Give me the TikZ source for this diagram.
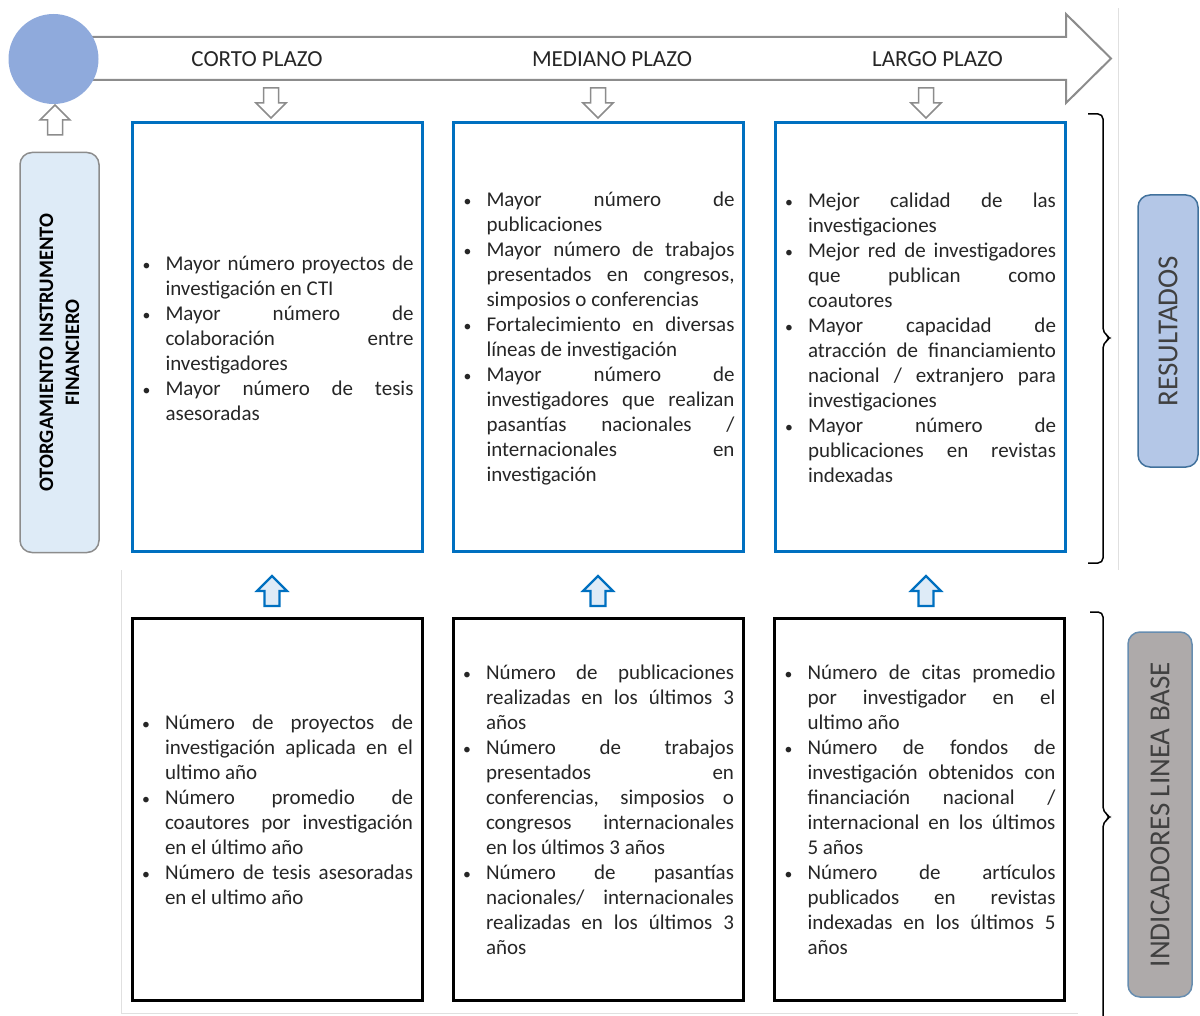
\documentclass[tikz,border=0pt]{standalone}
\usepackage{fontspec}
\setmainfont{Carlito}
\usepackage{enumitem}
\usetikzlibrary{shadows}
\definecolor{resblue}{HTML}{0070C0}
\definecolor{circblue}{HTML}{8FAADC}
\definecolor{paleblue}{HTML}{DEEBF7}
\definecolor{lightblue}{HTML}{B4C7E7}
\definecolor{edgeblue}{HTML}{41719C}
\definecolor{basegray}{HTML}{AEAAAA}
\definecolor{linegray}{HTML}{8C8C8C}
\setlist[itemize]{nosep,leftmargin=12pt,labelsep=7.5pt,label=\scalebox{0.75}{\textbullet}}
\hyphenpenalty=10000 \tolerance=10000 \hbadness=10000
\newcommand{\boxfont}{\fontsize{10.5}{12.5}\selectfont}
\tikzset{
	blockarr/.pic={\draw[pic actions] (-7.5,15) -- (-7.5,0) -- (-15,0) -- (0,-15) -- (15,0) -- (7.5,0) -- (7.5,15) -- cycle;},
	hollow/.style={draw=linegray, fill=white, line width=0.75pt},
	bluearr/.style={draw=resblue, fill=paleblue, line width=1.1pt},
	resbox/.style={draw=resblue, line width=1.5pt, minimum width=145pt, minimum height=214pt, text width=136pt, inner sep=0pt, align=justify, font=\boxfont, text=black!85, execute at end node={\par\vspace*{4pt}}},
	basebox/.style={resbox, draw=black, fill=white, minimum height=191pt, drop shadow={shadow xshift=0.8pt, shadow yshift=-0.8pt, opacity=0.45}},
	sidelabel/.style={rounded corners=6pt, rotate=90, align=center, inner sep=0pt},
	bracket/.style={rounded corners=2.5pt, line width=0.75pt}
}
\begin{document}
\begin{tikzpicture}[x=0.5pt,y=-0.5pt]
		\useasboundingbox (0,0) rectangle (1200,1016);
		\clip (0,0) rectangle (1200,1016);
		%Frame lines
		\draw[black!12] (1118,8) -- (1118,570);
		\draw[black!12] (121,570) -- (121,1013) -- (1078,1013);
		%Time arrow
		\draw[linegray, line width=1pt, fill=white] (60,37) -- (1066,37) -- (1066,14) -- (1111,58.5) -- (1066,103) -- (1066,80) -- (60,80) -- cycle;
		\node[circle, fill=circblue, minimum size=45pt, inner sep=0pt] (start) at (53.5,59) {};
		\node[font=\fontsize{11.5}{14}\selectfont, text=black!85] (corto) at (257,59) {CORTO PLAZO};
		\node[font=\fontsize{11.5}{14}\selectfont, text=black!85] (mediano) at (612,59) {MEDIANO PLAZO};
		\node[font=\fontsize{11.5}{14}\selectfont, text=black!85] (largo) at (937.5,59) {LARGO PLAZO};
		%Block arrows
		\pic[hollow] at (55,120) {blockarr};
		\pic[hollow, rotate=180] at (271,103) {blockarr};
		\pic[hollow, rotate=180] at (598,103) {blockarr};
		\pic[hollow, rotate=180] at (926,103) {blockarr};
		\pic[bluearr] at (272,591) {blockarr};
		\pic[bluearr] at (598,591) {blockarr};
		\pic[bluearr] at (926,591) {blockarr};
		%Side label
		\node[sidelabel, draw=black!45, fill=paleblue, line width=0.75pt, minimum width=200pt, minimum height=39.5pt, font=\bfseries\fontsize{10.3}{13}\selectfont] (otorga) at (59.5,352.5) {OTORGAMIENTO INSTRUMENTO\\FINANCIERO};
		%Results
		\node[resbox] (r1) at (277.5,337) {\begin{itemize}
			\item Mayor número proyectos de\linebreak investigación en CTI
			\item Mayor número de\linebreak colaboración entre\linebreak investigadores
			\item Mayor número de tesis\linebreak asesoradas
		\end{itemize}};
		\node[resbox] (r2) at (598.5,337) {\begin{itemize}
			\item Mayor número de\linebreak publicaciones
			\item Mayor número de trabajos\linebreak presentados en congresos,\linebreak simposios o conferencias
			\item Fortalecimiento en diversas\linebreak líneas de investigación
			\item Mayor número de\linebreak investigadores que realizan\linebreak pasantías nacionales /\linebreak internacionales en\linebreak investigación
		\end{itemize}};
		\node[resbox] (r3) at (920,337) {\begin{itemize}
			\item Mejor calidad de las\linebreak investigaciones
			\item Mejor red de investigadores\linebreak que publican como\linebreak coautores
			\item Mayor capacidad de\linebreak atracción de financiamiento\linebreak nacional / extranjero para\linebreak investigaciones
			\item Mayor número de\linebreak publicaciones en revistas\linebreak indexadas
		\end{itemize}};
		%Baseline indicators
		\node[basebox] (b1) at (277,809) {\begin{itemize}
			\item Número de proyectos de\linebreak investigación aplicada en el\linebreak ultimo año
			\item Número promedio de\linebreak coautores por investigación\linebreak en el último año
			\item Número de tesis asesoradas\linebreak en el ultimo año
		\end{itemize}};
		\node[basebox] (b2) at (598,809) {\begin{itemize}
			\item Número de publicaciones\linebreak realizadas en los últimos 3\linebreak años
			\item Número de trabajos\linebreak presentados en\linebreak conferencias, simposios o\linebreak congresos internacionales\linebreak en los últimos 3 años
			\item Número de pasantías\linebreak nacionales/ internacionales\linebreak realizadas en los últimos 3\linebreak años
		\end{itemize}};
		\node[basebox] (b3) at (919.5,809) {\begin{itemize}
			\item Número de citas promedio\linebreak por investigador en el\linebreak ultimo año
			\item Número de fondos de\linebreak investigación obtenidos con\linebreak financiación nacional /\linebreak internacional en los últimos\linebreak 5 años
			\item Número de artículos\linebreak publicados en revistas\linebreak indexadas en los últimos 5\linebreak años
		\end{itemize}};
		%Brackets
		\draw[bracket] (1088,114) -- (1103,114) -- (1103,333) -- (1111,338) -- (1103,343) -- (1103,563) -- (1088,563);
		\draw[bracket] (1090,612) -- (1103,612) -- (1103,812) -- (1111,817) -- (1103,822) -- (1103,1030);
		%Right labels
		\node[sidelabel, draw=edgeblue, fill=lightblue, line width=0.75pt, minimum width=136pt, minimum height=30pt, text=black!75, font=\fontsize{14.5}{17}\selectfont] (resultados) at (1168,331) {RESULTADOS};
		\node[sidelabel, draw=edgeblue!80, fill=basegray, line width=0.75pt, minimum width=182.5pt, minimum height=32pt, text=black!75, font=\fontsize{14.5}{17}\selectfont] (lineabase) at (1160,814.5) {INDICADORES LINEA BASE};
\end{tikzpicture}
\end{document}
